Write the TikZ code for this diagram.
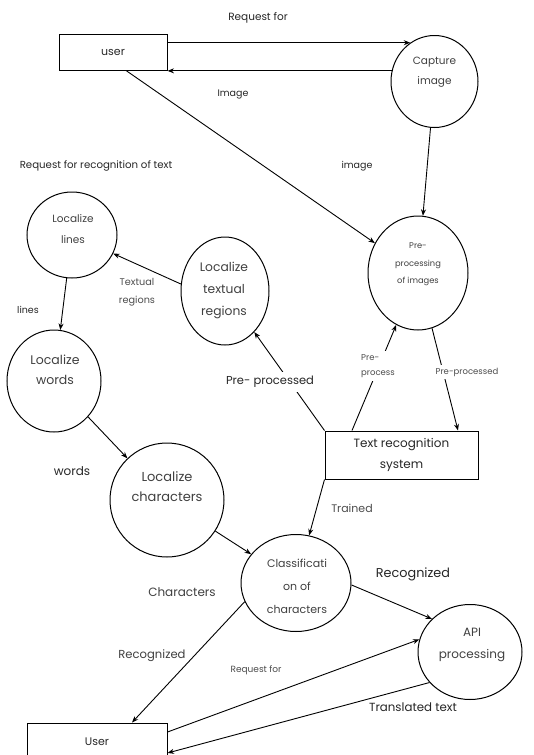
\documentclass[tikz,border=0pt]{standalone}
\usepackage{fontspec}
\setmainfont{Poppins}
\usetikzlibrary{shapes.geometric,arrows.meta}

\tikzset{
  proc/.style={ellipse, draw, line width=1pt, inner sep=0pt},
  ptxt/.style={inner sep=0pt, align=center, text=black!75},
  ext/.style={rectangle, draw, line width=1pt, inner sep=0pt, align=center, text=black!85},
  lbl/.style={inner sep=1pt, align=center, text=black!85},
  flow/.style={->, line width=0.9pt},
}

\begin{document}
\begin{tikzpicture}[x=1pt, y=-1pt, >={Stealth[length=6.5pt,width=5pt]}]

\useasboundingbox (0,0) rectangle (534,755);
\clip (0,0) rectangle (534,755);

% external entities
\node[ext, minimum width=108pt, minimum height=36pt, font=\fontsize{11}{13}\selectfont] (user) at (113,52) {user};
\node[ext, minimum width=140pt, minimum height=38pt, font=\fontsize{11}{13}\selectfont] (User2) at (97,742) {User};
\node[ext, minimum width=153pt, minimum height=48pt, font=\fontsize{12}{21}\selectfont] (trs) at (401.5,455) {Text recognition\\system};

% processes
\node[proc, minimum width=87pt, minimum height=92pt] (capture) at (434.5,81.5) {};
\node[proc, minimum width=100pt, minimum height=114pt] (prep) at (418,273) {};
\node[proc, minimum width=90pt, minimum height=86pt] (lines) at (72,235) {};
\node[proc, minimum width=88pt, minimum height=108pt] (regions) at (225,291) {};
\node[proc, minimum width=94pt, minimum height=102pt] (words) at (54,381) {};
\node[proc, minimum width=114pt, minimum height=114pt] (chars) at (167,500) {};
\node[proc, minimum width=110pt, minimum height=97pt] (classif) at (296,583) {};
\node[proc, minimum width=104pt, minimum height=95pt] (api) at (470,652) {};

\node[ptxt, font=\fontsize{10.5}{20}\selectfont] (capture-t) at (434.5,72) {Capture\\image};
\node[ptxt, font=\fontsize{8.3}{17.5}\selectfont] (prep-t) at (418,264.5) {Pre-\\processing\\of images};
\node[ptxt, font=\fontsize{10.5}{21}\selectfont] (lines-t) at (73,229.5) {Localize\\lines};
\node[ptxt, font=\fontsize{12.3}{22}\selectfont] (regions-t) at (224,290) {Localize\\textual\\regions};
\node[ptxt, font=\fontsize{12.5}{20}\selectfont] (words-t) at (55,370) {Localize\\words};
\node[ptxt, font=\fontsize{13}{20}\selectfont] (chars-t) at (167,487) {Localize\\characters};
\node[ptxt, font=\fontsize{11}{23}\selectfont] (classif-t) at (297,586) {Classificati\\on of\\characters};
\node[ptxt, font=\fontsize{12}{22}\selectfont] (api-t) at (472,645) {API\\processing};

% flows
\draw[flow] (capture.122 -| user.east) -- (capture.122);
\draw[flow] (capture.166) -- (capture.166 -| user.east);
\draw[flow] ([xshift=13pt]user.south) -- (prep);
\draw[flow] (capture) -- (prep);
\draw[flow] (regions.171) -- (lines);
\draw[flow] (lines) -- (words);
\draw[flow] (trs.north west) -- (regions);
\draw[flow] ([xshift=-49.5pt]trs.north) -- (prep);
\draw[flow] (prep) -- ([xshift=56.5pt]trs.north);
\draw[flow] (words) -- (chars);
\draw[flow] (chars) -- (classif);
\draw[flow] (trs.south west) -- (classif);
\draw[flow] (classif.-2) -- (api.139);
\draw[flow] (classif.200) -- ([xshift=35pt]User2.north);
\draw[flow] ([yshift=10pt]User2.east) -- (api.166);
\draw[flow] (api.217) -- ([yshift=-11pt]User2.east);

% labels
\node[lbl, font=\fontsize{10.5}{12}\selectfont] (lreq) at (258,18) {Request for};
\node[lbl, font=\fontsize{9.5}{12}\selectfont] (limg) at (233,94) {Image};
\node[lbl, font=\fontsize{9.5}{12}\selectfont] (limg2) at (357,166) {image};
\node[lbl, font=\fontsize{10.2}{12}\selectfont] (lrec) at (96,166) {Request for recognition of text};
\node[lbl, font=\fontsize{9.5}{12}\selectfont] (llines) at (28,310) {lines};
\node[lbl, font=\fontsize{9.7}{18}\selectfont, text=black!70] (ltext) at (137,292) {Textual\\regions};
\node[lbl, fill=white, inner sep=4pt, font=\fontsize{11.5}{13}\selectfont] (lpre1) at (270,382) {Pre- processed};
\node[lbl, fill=white, inner sep=3pt, align=left, font=\fontsize{8.5}{15}\selectfont, text=black!70] (lpre2) at (378,366) {Pre-\\process};
\node[lbl, fill=white, inner sep=3pt, font=\fontsize{8.5}{10}\selectfont, text=black!70] (lpre3) at (467,372) {Pre-processed};
\node[lbl, font=\fontsize{12}{14}\selectfont] (lwords) at (72,471) {words};
\node[lbl, font=\fontsize{11}{13}\selectfont, text=black!70] (ltrain) at (352,508) {Trained};
\node[lbl, font=\fontsize{12}{14}\selectfont, text=black!75] (lchar) at (182,592) {Characters};
\node[lbl, font=\fontsize{12.8}{15}\selectfont] (lrecog1) at (413,574) {Recognized};
\node[lbl, font=\fontsize{11.6}{14}\selectfont, text=black!75] (lrecog2) at (152,656) {Recognized};
\node[lbl, font=\fontsize{9}{11}\selectfont, text=black!70] (lreq2) at (256,670) {Request for};
\node[lbl, fill=white, inner sep=3pt, font=\fontsize{11.8}{14}\selectfont] (ltrans) at (413,707) {Translated text};

\end{tikzpicture}
\end{document}
